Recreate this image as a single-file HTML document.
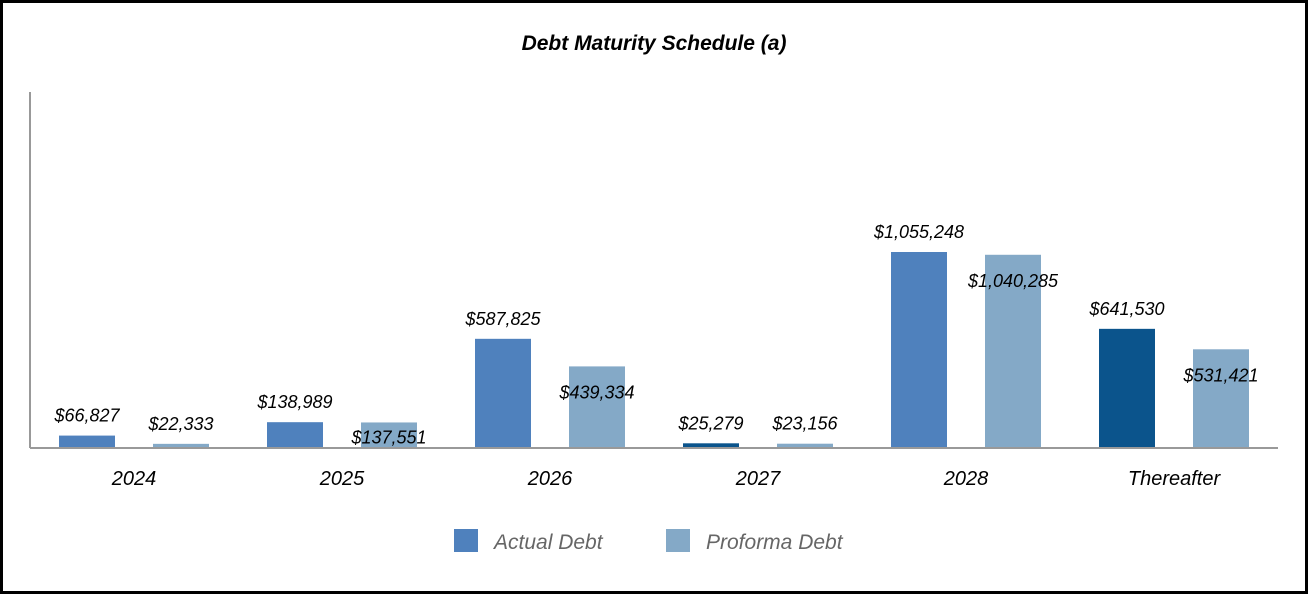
<!DOCTYPE html>
<html><head><meta charset="utf-8"><style>
body{margin:0;width:1308px;height:594px;overflow:hidden;background:#fff;font-family:"Liberation Sans",Arial,sans-serif}
#frame{position:absolute;left:0;top:0;width:1302px;height:588px;border:3px solid #000;background:#fff}
</style></head><body>
<div id="frame"></div>
<svg id="chart" width="1308" height="594" style="position:absolute;left:0;top:0">
<text x="654" y="50" text-anchor="middle" font-size="21" font-weight="bold" font-style="italic" fill="#000">Debt Maturity Schedule (a)</text>
<line x1="30" y1="92" x2="30" y2="448" stroke="#999" stroke-width="2"/>
<g id="bars"></g>
<line x1="30" y1="448" x2="1278" y2="448" stroke="#999" stroke-width="2"/>
<rect x="454" y="529" width="24" height="23" fill="#4f81bd"/>
<text x="494" y="549" font-size="21" font-style="italic" fill="#666">Actual Debt</text>
<rect x="666" y="529" width="24" height="23" fill="#84a9c7"/>
<text x="706" y="549" font-size="21" font-style="italic" fill="#666">Proforma Debt</text>
</svg>
<script>
const categories=["2024","2025","2026","2027","2028","Thereafter"];
const actualDebt=[66827,138989,587825,25279,1055248,641530];
const proformaDebt=[22333,137551,439334,23156,1040285,531421];
const actualColors=["#4f81bd","#4f81bd","#4f81bd","#0b548c","#4f81bd","#0b548c"];
const NS="http://www.w3.org/2000/svg";
const g=document.getElementById("bars");
const x0=30,x1=1278,base=448,maxV=1055248,maxH=196;
const band=(x1-x0)/categories.length;
const y=v=>base-v/maxV*maxH;
const fmt=v=>"$"+v.toLocaleString("en-US");
function mk(tag,attrs){const e=document.createElementNS(NS,tag);for(const k in attrs)e.setAttribute(k,attrs[k]);g.appendChild(e);return e;}
categories.forEach((c,i)=>{
  const cx=x0+band*i+band/2;
  const ax=cx-47,px=cx+47,w=56;
  const ay=y(actualDebt[i]),py=y(proformaDebt[i]);
  const r1=mk("rect",{x:ax-w/2,y:ay,width:w,height:base-ay,fill:actualColors[i]});
  
  
  const r2=mk("rect",{x:px-w/2,y:py,width:w,height:base-py,fill:"#84a9c7"});
  
  
  const t1=mk("text",{x:ax,y:ay-14,"text-anchor":"middle","font-size":"18","font-style":"italic",fill:"#000"});
  t1.textContent=fmt(actualDebt[i]);
  
  
  const h=base-py;
  const ly=h>40?py+32:(h>15?py+21:py-14);
  const t2=mk("text",{x:px,y:ly,"text-anchor":"middle","font-size":"18","font-style":"italic",fill:"#000"});
  t2.textContent=fmt(proformaDebt[i]);
  
  
  const t3=mk("text",{x:cx,y:485,"text-anchor":"middle","font-size":"20","font-style":"italic",fill:"#000"});
  t3.textContent=c;
  
  
});
</script>
</body></html>
